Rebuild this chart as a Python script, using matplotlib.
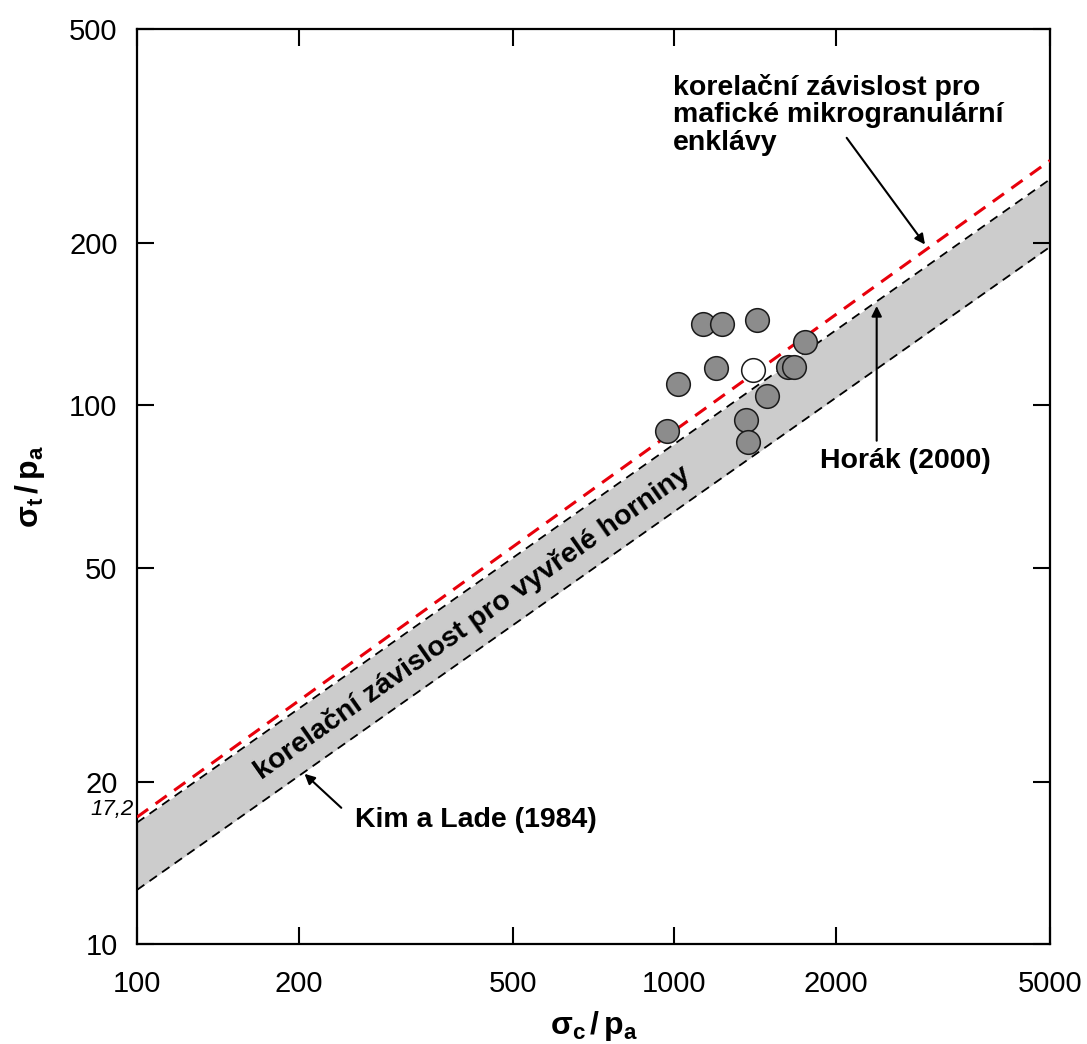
import matplotlib
matplotlib.use("Agg")
import matplotlib.pyplot as plt
import numpy as np

plt.rcParams["font.family"] = ["Liberation Sans", "DejaVu Sans"]
plt.rcParams["mathtext.fontset"] = "custom"
plt.rcParams["mathtext.rm"] = "Liberation Sans"
plt.rcParams["mathtext.bf"] = "Liberation Sans:bold"
plt.rcParams["mathtext.it"] = "Liberation Sans:italic"

# measured sigma_c/pa and sigma_t/pa
sc_gray = [1129, 1225, 1427, 1750, 1195, 1629, 1670, 1014, 1485, 1359, 1369, 968]
st_gray = [141.7, 141.7, 144.1, 131.0, 117.4, 118.1, 118.1, 109.7, 103.9, 93.8, 85.5, 89.8]
sc_white = [1402]
st_white = [116.4]

# correlation lines, values at sigma_c/pa = 100 and 5000
line_x = [100, 5000]
kim_lade = [12.6, 197]
horak = [16.8, 263]
mme = [17.2, 285]

x_ticks = [100, 200, 500, 1000, 2000, 5000]
y_ticks = [10, 20, 50, 100, 200, 500]


def powerline(x, ends):
    # straight line in log-log space through the two end values
    b = np.log10(ends[1] / ends[0]) / np.log10(line_x[1] / line_x[0])
    return ends[0] * (np.asarray(x) / line_x[0]) ** b


fig = plt.figure(figsize=(10.87, 10.44), dpi=100)
ax = fig.add_axes([0.126, 0.0958, 0.840, 0.8764])

xs = np.logspace(2, np.log10(5000), 200)
ax.fill_between(xs, powerline(xs, kim_lade), powerline(xs, horak),
                color="#cccccc", lw=0, zorder=1)
ax.plot(xs, powerline(xs, kim_lade), color="black", lw=1.3,
        dashes=(5, 3.5), zorder=2)
ax.plot(xs, powerline(xs, horak), color="black", lw=1.3,
        dashes=(5, 3.5), zorder=2)
ax.plot(xs, powerline(xs, mme), color="#e8000b", lw=2.2,
        dashes=(4.5, 3), zorder=3)

ax.scatter(sc_gray, st_gray, s=290, c="#8c8c8c", edgecolors="#1a1a1a",
           linewidths=1.1, zorder=4)
ax.scatter(sc_white, st_white, s=290, c="white", edgecolors="#1a1a1a",
           linewidths=1.1, zorder=4)

ax.set_xscale("log")
ax.set_yscale("log")
ax.set_xlim(100, 5000)
ax.set_ylim(10, 500)
ax.set_xticks(x_ticks)
ax.set_xticklabels([str(v) for v in x_ticks])
ax.set_yticks(y_ticks)
ax.set_yticklabels([str(v) for v in y_ticks])
ax.minorticks_off()
ax.tick_params(which="major", direction="in", length=12, width=1.5,
               labelsize=21, top=True, right=True)
ax.tick_params(axis="x", pad=19)
ax.tick_params(axis="y", pad=14)
for sp in ax.spines.values():
    sp.set_linewidth(1.6)

ax.set_xlabel(r"$\mathbf{σ_c\,/\,p_a}$", fontsize=23, labelpad=8)
ax.set_ylabel(r"$\mathbf{σ_t\,/\,p_a}$", fontsize=23, labelpad=16)

# intercept of the enclave correlation
ax.text(-0.004, 17.75, "17,2", transform=ax.get_yaxis_transform(),
        ha="right", va="center", fontsize=16, style="italic")

bold = dict(fontsize=20.5, fontweight="bold")
ax.text(420, 39.5, "korelační závislost pro vyvřelé horniny",
        rotation=35.1, rotation_mode="anchor", ha="center", va="center",
        **bold, zorder=5)

arrow = dict(arrowstyle="-|>", color="black", lw=1.5,
             mutation_scale=15, shrinkA=0, shrinkB=0)

# baseline of the last line ("enklávy")
ax.text(994, 298, "korelační závislost pro\nmafické mikrogranulární\nenklávy",
        ha="left", va="baseline", linespacing=1.08, **bold)
ax.annotate("", xy=(2926, 199), xytext=(2092, 314), arrowprops=arrow)

ax.annotate("", xy=(2379, 153), xytext=(2379, 86), arrowprops=arrow)
ax.text(1866, 78.8, "Horák (2000)", ha="left", va="center", **bold)

ax.annotate("", xy=(205, 20.7), xytext=(240, 17.9), arrowprops=arrow)
ax.text(254, 17.0, "Kim a Lade (1984)", ha="left", va="center", **bold)

fig.savefig("out.png", dpi=100)
